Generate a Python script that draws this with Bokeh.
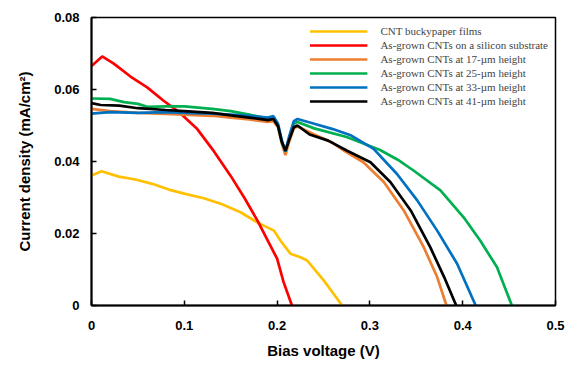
from bokeh.plotting import figure
from bokeh.models import Range1d, FixedTicker, Legend, LegendItem
from bokeh.embed import file_html
from bokeh.resources import INLINE

# ---- data ----
yellow_x = [0, 0.0108, 0.0295, 0.0474, 0.0654, 0.0833, 0.101, 0.121, 0.14, 0.1606, 0.1786, 0.1965, 0.2037, 0.2144, 0.2252, 0.2324, 0.2504, 0.261, 0.270]
yellow_y = [0.0361, 0.0373, 0.0358, 0.035, 0.0338, 0.0322, 0.031, 0.0298, 0.0282, 0.0259, 0.0231, 0.0208, 0.018, 0.0144, 0.0134, 0.0125, 0.0069, 0.0032, 0.0]

red_x = [0, 0.0115, 0.024, 0.042, 0.06, 0.078, 0.093, 0.114, 0.132, 0.15, 0.165, 0.179, 0.193, 0.2, 0.207, 0.216]
red_y = [0.0665, 0.0692, 0.0672, 0.0636, 0.0606, 0.0568, 0.0540, 0.0490, 0.0428, 0.0360, 0.0298, 0.0235, 0.0165, 0.0130, 0.0065, 0.0]

orange_x = [0, 0.02, 0.05, 0.08, 0.1, 0.13, 0.15, 0.17, 0.19, 0.196, 0.201, 0.205, 0.209, 0.213, 0.218, 0.222, 0.24, 0.26, 0.272, 0.293, 0.315, 0.3365, 0.358, 0.3725, 0.3825]
orange_y = [0.0546, 0.0540, 0.0535, 0.0532, 0.0530, 0.0527, 0.0522, 0.0517, 0.0510, 0.0512, 0.0495, 0.045, 0.0418, 0.0455, 0.0492, 0.0497, 0.0475, 0.0452, 0.0430, 0.0398, 0.0343, 0.0264, 0.0162, 0.0079, 0.0]

green_x = [0, 0.02, 0.035, 0.05, 0.06, 0.08, 0.1, 0.13, 0.15, 0.17, 0.19, 0.196, 0.201, 0.205, 0.209, 0.213, 0.218, 0.222, 0.24, 0.275, 0.311, 0.33, 0.347, 0.376, 0.401, 0.419, 0.437, 0.453]
green_y = [0.0575, 0.0574, 0.0565, 0.056, 0.0552, 0.0553, 0.0553, 0.0546, 0.054, 0.0530, 0.0520, 0.0522, 0.050, 0.0455, 0.0428, 0.0465, 0.0505, 0.0510, 0.0492, 0.0468, 0.0432, 0.0405, 0.0375, 0.032, 0.0245, 0.018, 0.0106, 0.0]

blue_x = [0, 0.02, 0.05, 0.08, 0.1, 0.13, 0.15, 0.17, 0.19, 0.196, 0.201, 0.205, 0.209, 0.213, 0.218, 0.222, 0.24, 0.26, 0.28, 0.304, 0.329, 0.351, 0.3725, 0.394, 0.414]
blue_y = [0.0533, 0.0537, 0.0535, 0.0537, 0.0535, 0.0533, 0.0530, 0.0527, 0.0522, 0.0526, 0.0505, 0.046, 0.0428, 0.047, 0.0512, 0.0518, 0.0505, 0.0490, 0.0472, 0.0435, 0.0366, 0.0292, 0.0208, 0.0116, 0.0]

black_x = [0, 0.01, 0.03, 0.05, 0.08, 0.1, 0.13, 0.15, 0.17, 0.19, 0.196, 0.201, 0.205, 0.209, 0.213, 0.218, 0.222, 0.235, 0.255, 0.2755, 0.3006, 0.322, 0.344, 0.365, 0.38, 0.393]
black_y = [0.0562, 0.0557, 0.0555, 0.0548, 0.0543, 0.0540, 0.0535, 0.0528, 0.0522, 0.0515, 0.0518, 0.0498, 0.0455, 0.0430, 0.046, 0.0495, 0.0500, 0.0475, 0.0458, 0.0430, 0.0398, 0.0343, 0.0264, 0.0162, 0.0079, 0.0]

series_labels = ["CNT buckypaper films",
                 "As-grown CNTs on a silicon substrate",
                 "As-grown CNTs at 17-\u00b5m height",
                 "As-grown CNTs at 25-\u00b5m height",
                 "As-grown CNTs at 33-\u00b5m height",
                 "As-grown CNTs at 41-\u00b5m height"]
series_colors = ["#FFC000", "#FF0000", "#ED7D31", "#00B050", "#0070C0", "#000000"]

x_ticks = [0, 0.1, 0.2, 0.3, 0.4, 0.5]
x_tick_labels = ["0", "0.1", "0.2", "0.3", "0.4", "0.5"]
y_ticks = [0, 0.02, 0.04, 0.06, 0.08]
y_tick_labels = ["0", "0.02", "0.04", "0.06", "0.08"]

# ---- figure ----
p = figure(frame_width=464, frame_height=288, output_backend="svg", toolbar_location=None,
           x_range=Range1d(0, 0.5), y_range=Range1d(0, 0.08),
           min_border_left=91, min_border_right=10, min_border_top=17, min_border_bottom=58)
p.xgrid.visible = False
p.ygrid.visible = False
p.outline_line_color = "black"
p.outline_line_width = 1.5
p.background_fill_color = "white"
p.border_fill_color = "white"

xs = [yellow_x, red_x, orange_x, green_x, blue_x, black_x]
ys = [yellow_y, red_y, orange_y, green_y, blue_y, black_y]
renderers = []
for x, y, c in zip(xs, ys, series_colors):
    r = p.line(x, y, line_color=c, line_width=2.7)
    renderers.append(r)

for ax, ticks, labels in ((p.xaxis, x_ticks, x_tick_labels), (p.yaxis, y_ticks, y_tick_labels)):
    ax.ticker = FixedTicker(ticks=ticks)
    ax.major_label_overrides = {t: l for t, l in zip(ticks, labels)}
    ax.minor_tick_line_color = None
    ax.major_tick_in = 5
    ax.major_tick_out = 0
    ax.axis_line_width = 2
    ax.axis_line_color = "black"
    ax.major_tick_line_width = 1.5
    ax.major_label_text_font = "Liberation Sans"
    ax.major_label_text_font_style = "bold"
    ax.major_label_text_font_size = "13px"
    ax.major_label_text_color = "black"
    ax.axis_label_text_font = "Liberation Sans"
    ax.axis_label_text_font_style = "bold"
    ax.axis_label_text_font_size = "15px"
    ax.axis_label_text_color = "black"

p.xaxis.axis_label = "Bias voltage (V)"
p.yaxis.axis_label = "Current density (mA/cm\u00b2)"
p.xaxis.major_label_standoff = 15
p.yaxis.major_label_standoff = 12
p.xaxis.axis_label_standoff = 9
p.yaxis.axis_label_standoff = 18

legend = Legend(items=[LegendItem(label=l, renderers=[r]) for l, r in zip(series_labels, renderers)],
                location="top_right", border_line_color=None, background_fill_alpha=0,
                label_text_font="Liberation Serif", label_text_font_size="11px",
                glyph_width=58, glyph_height=14, label_height=14, label_standoff=13,
                spacing=0, padding=5, margin=7)
p.add_layout(legend)

open("out.html", "w").write(file_html(p, INLINE))
